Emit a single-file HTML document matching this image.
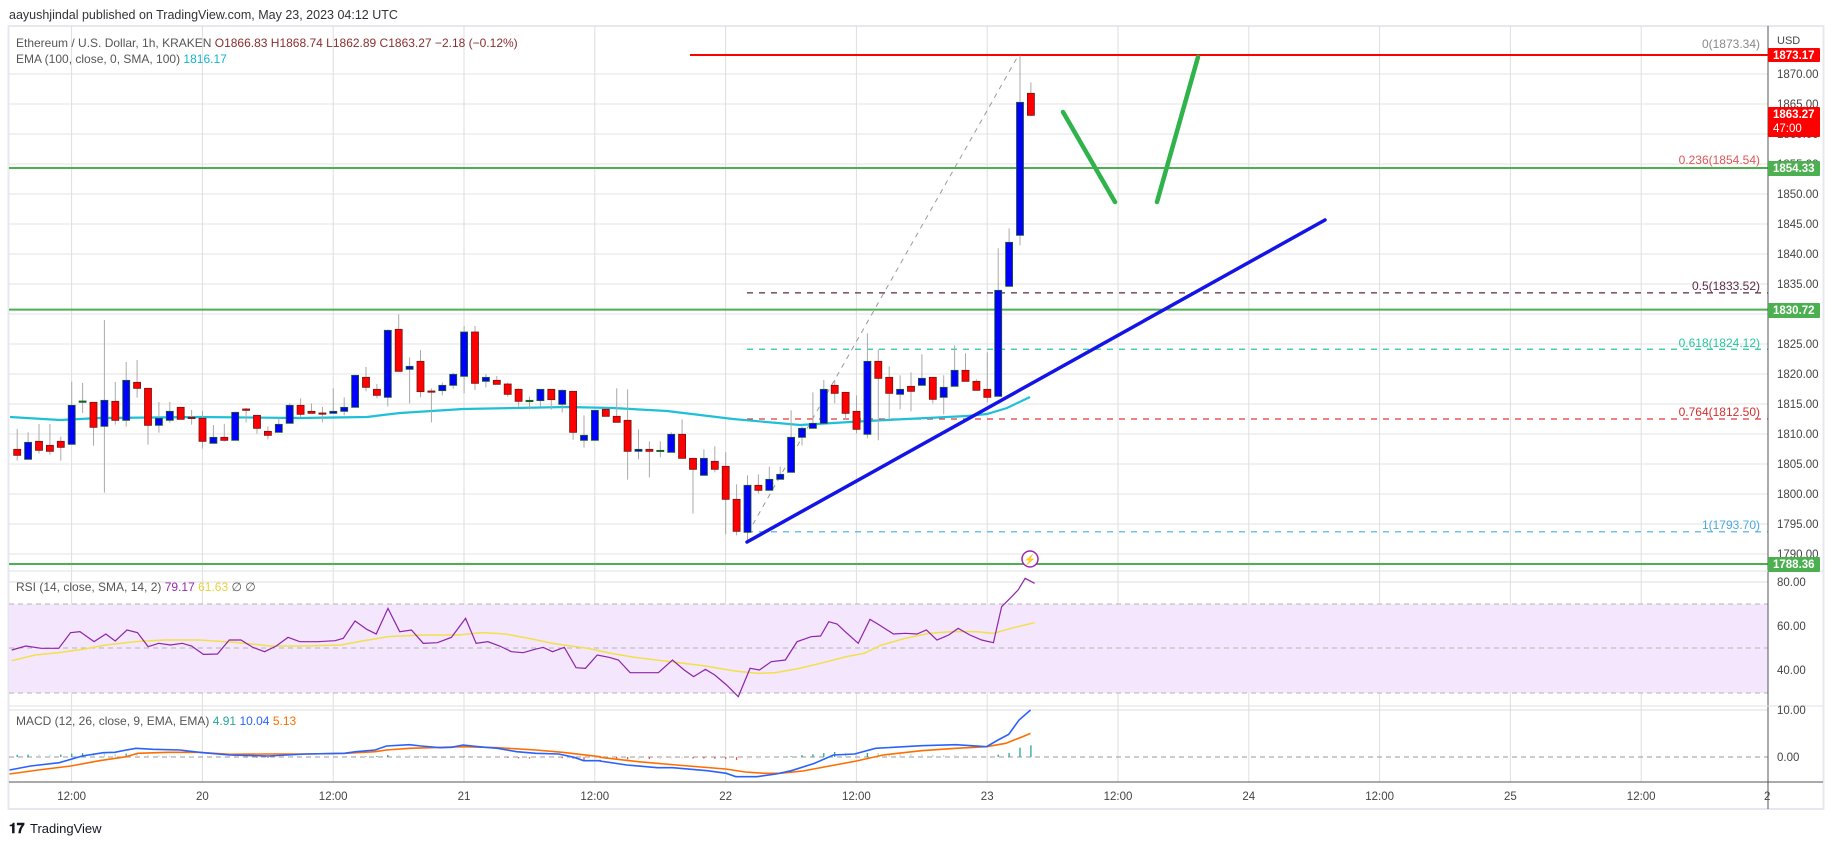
<!DOCTYPE html>
<html><head><meta charset="utf-8">
<style>
html,body{margin:0;padding:0;background:#fff;}
body{width:1834px;height:845px;overflow:hidden;font-family:"Liberation Sans",sans-serif;}
svg text{font-family:"Liberation Sans",sans-serif;}
</style></head>
<body>
<svg id="c" width="1834" height="845" viewBox="0 0 1834 845" xmlns="http://www.w3.org/2000/svg">
<rect x="0" y="0" width="1834" height="845" fill="#fff"/>
<text x="9" y="19" font-size="12.5" fill="#333">aayushjindal published on TradingView.com, May 23, 2023 04:12 UTC</text>
<rect x="8.5" y="26" width="1815" height="783" fill="#fff" stroke="#e6e8ee" stroke-width="2"/>
<g id="grid"></g>
<rect x="9" y="604" width="1759" height="89" fill="#f3e6fd"/>
<g id="grid2"></g>
<g id="lines"></g>
<g id="candles"></g>
<g id="over"></g>
<text x="16" y="47" font-size="12" fill="#555">Ethereum / U.S. Dollar, 1h, KRAKEN <tspan fill="#8b2e2e"> O1866.83  H1868.74  L1862.89  C1863.27  −2.18 (−0.12%)</tspan></text>
<text x="16" y="63" font-size="12" fill="#555">EMA (100, close, 0, SMA, 100) <tspan fill="#13b5d0">1816.17</tspan></text>
<text x="16" y="591" font-size="12" fill="#555">RSI (14, close, SMA, 14, 2) <tspan fill="#9c27b0">79.17</tspan> <tspan fill="#e8d23a">61.63</tspan> <tspan fill="#555">∅  ∅</tspan></text>
<text x="16" y="725" font-size="12" fill="#555">MACD (12, 26, close, 9, EMA, EMA) <tspan fill="#26a69a">4.91</tspan> <tspan fill="#2962ff">10.04</tspan> <tspan fill="#ff6d00">5.13</tspan></text>
<line x1="1768" y1="26" x2="1768" y2="809" stroke="#555" stroke-width="1"/>
<line x1="9" y1="782" x2="1823" y2="782" stroke="#555" stroke-width="1"/>
<line x1="9" y1="571" x2="1823" y2="571" stroke="#dfe1e6" stroke-width="1"/>
<line x1="9" y1="706" x2="1823" y2="706" stroke="#dfe1e6" stroke-width="1"/>
<g id="axis" font-size="11.5" fill="#444"></g>
<g id="tags"></g>
<text x="1777" y="44" font-size="11" fill="#444">USD</text>
<text x="9" y="833" font-size="14" font-weight="bold" fill="#131722">𝟏𝟕</text>
<text x="30" y="833" font-size="13" fill="#131722">TradingView</text>
</svg>
<script>
const NS="http://www.w3.org/2000/svg";
function el(p,tag,a,txt){const e=document.createElementNS(NS,tag);for(const k in a)e.setAttribute(k,a[k]);if(txt!==undefined)e.textContent=txt;document.getElementById(p).appendChild(e);return e;}
const yp=p=>74+(1870-p)*6;
const xt=t=>-59.1+10.9*t;
for(let p=1790;p<=1870;p+=5){el('grid','line',{x1:9,x2:1768,y1:yp(p),y2:yp(p),stroke:'#e3e3e3','stroke-width':1});}
[582,626,670].forEach(y=>el('grid','line',{x1:9,x2:1768,y1:y,y2:y,stroke:'#dcdcdc','stroke-width':1}));
el('grid','line',{x1:9,x2:1768,y1:710,y2:710,stroke:'#dcdcdc','stroke-width':1});
for(let k=0;k<13;k++){const x=71.6+130.8*k;el('grid','line',{x1:x,x2:x,y1:26,y2:782,stroke:'#dedede','stroke-width':1});}
[604,648,693].forEach(y=>el('grid2','line',{x1:9,x2:1768,y1:y,y2:y,stroke:'#b5b5b5','stroke-width':1,'stroke-dasharray':'5,4'}));
el('grid2','line',{x1:9,x2:1768,y1:757,y2:757,stroke:'#9a9a9a','stroke-width':1,'stroke-dasharray':'5,4'});
for(let p=1790;p<=1870;p+=5){el('axis','text',{x:1777,y:yp(p)+4},p.toFixed(2));}
[[582,'80.00'],[626,'60.00'],[670,'40.00'],[710,'10.00'],[757,'0.00']].forEach(a=>el('axis','text',{x:1777,y:a[0]+4},a[1]));
const xl=['12:00','20','12:00','21','12:00','22','12:00','23','12:00','24','12:00','25','12:00'];
xl.forEach((s,k)=>el('axis','text',{x:71.6+130.8*k,y:800,'text-anchor':'middle'},s));
el('axis','text',{x:1764,y:800},'2');
function hl(y,x1,col,w,dash){const a={x1:x1,x2:1768,y1:y,y2:y,stroke:col,'stroke-width':w};if(dash)a['stroke-dasharray']=dash;el('lines','line',a);}
hl(yp(1833.52),747,'#5a2a48',1.2,'6,6');
hl(yp(1824.12),747,'#26c6a0',1.2,'6,6');
hl(yp(1812.50),747,'#e53935',1.2,'6,6');
hl(yp(1793.70),747,'#4aa8e0',1.2,'6,6');
el('lines','line',{x1:748,y1:533,x2:1018,y2:56,stroke:'#999','stroke-width':1,'stroke-dasharray':'5,5'});
const fl=[[44,'0(1873.34)','#888'],[160,'0.236(1854.54)','#e05555'],[286,'0.5(1833.52)','#5a2a48'],[343,'0.618(1824.12)','#26c6a0'],[412,'0.764(1812.50)','#d32f2f'],[525,'1(1793.70)','#4aa8e0']];
fl.forEach(f=>el('lines','text',{x:1760,y:f[0]+4,'text-anchor':'end','font-size':12,fill:f[2]},f[1]));
const ema=[[10,417],[60,420],[100,418],[200,417],[300,418],[367,417],[383,415],[400,413],[463,409],[567,407],[613,408],[667,411],[733,419],[800,425],[867,421],[967,416],[987,414],[1007,408],[1030,397]];
el('lines','polyline',{points:ema.map(p=>p.join(',')).join(' '),fill:'none',stroke:'#1ec0d8','stroke-width':2.2});
const D=[
['d',448,466,387,482,300],['u',427,478,397,478,300],['d',424,451,372,461,300],['d',436,454,372,464,300],['d',424,442,410,482,300],
['u',316,433,245,433,300],['g',303,307,249,339,300],['d',307,382,307,437,300],['u',301,379,60,578,300],['d',304,361,246,374,300],
['u',241,361,186,380,300],['d',247,265,180,293,300],['d',265,376,265,434,300],['u',355,376,306,398,300],['u',334,361,306,368,300],
['d',322,358,322,358,300],['d',352,355,330,374,300],['d',355,424,333,446,300],['u',412,430,375,430,300],['d',412,421,372,424,300],
['u',337,421,337,421,300],['d',327,331,324,367,300],['d',346,385,346,401,300],['d',394,406,379,418,300],['u',373,397,355,397,300],
['u',316,370,310,370,300],['d',316,343,295,351,300],['d',334,340,310,340,300],['d',339,341,321,367,300],['u',334,340,265,340,300],
['u',322,334,292,346,300],['u',226,322,226,322,300],['d',232,262,201,274,300],['d',268,286,252,295,300],['u',91,292,88,319,300],
['d',88,214,43,214,300],['u',199,208,172,310,300],
['d',64,155,30,172,340],['d',153,155,145,247,340],['u',136,152,128,166,340],['u',103,136,98,146,340],['u',-24,109,-42,160,340],
['d',-24,130,-42,150,340],['u',112,124,102,142,340],['d',121,133,108,133,340],['d',132,163,128,170,340],['d',148,184,145,200,340],
['g',181,185,170,209,340],['u',148,182,148,200,340],['d',148,179,148,209,340],['u',151,193,148,218,340],['d',154,277,154,299,340],
['u',286,301,226,323,340],['u',211,301,211,301,340],['d',208,229,208,229,340],['d',229,247,145,247,340],['d',241,334,148,419,340],
['u',328,334,268,358,340],['d',328,334,304,412,340],['g',331,334,304,352,340],['u',283,337,277,337,340],['d',283,355,238,355,340],
['d',355,388,355,521,340],['u',355,406,328,406,340],['d',364,388,319,397,340],['d',379,478,337,583,340],['d',478,574,433,586,340],
['u',436,577,406,604,340],['d',436,451,403,460,340],['u',418,451,380,451,340],['u',403,418,380,418,340],['u',292,397,211,397,340],
['u',265,292,260,316,340],['u',250,265,157,265,340],
['u',1048,1150,1020,1150,40],['d',1036,1060,1020,1090,40],['d',1057,1120,1057,1138,40],['d',1114,1168,1066,1180,40],['u',964,1183,880,1195,40],
['d',964,1015,928,1201,40],['d',1012,1060,979,1138,40],['u',1048,1063,1006,1108,40],['d',1039,1054,997,1114,40],['u',1015,1036,943,1036,40],
['d',1012,1078,1012,1090,40],['u',1042,1072,1006,1123,40],['u',991,1039,916,1039,40],['d',991,1024,940,1024,40],['d',1024,1051,1018,1051,40],
['d',1048,1072,937,1087,40],['u',751,1069,625,1069,40],['u',607,739,565,739,40],['u',187,586,47,616,40],['d',160,226,127,229,40]];
D.forEach((c,i)=>{const t=7+i,x=xt(t),o=c[5];const bt=o+c[1]/3,bb=o+c[2]/3,wt=o+c[3]/3,wb=o+c[4]/3;
 el('candles','line',{x1:x,x2:x,y1:Math.min(wt,bt),y2:Math.max(wb,bb),stroke:'#aaa','stroke-width':1});
 const fill=c[0]=='u'?'#0000ff':(c[0]=='d'?'#ff0000':'#1b5e3b');const st=c[0]=='d'?'#7a1010':'#1b5e20';
 el('candles','rect',{x:x-3.5,y:bt,width:7,height:Math.max(1.2,bb-bt),fill:fill,stroke:st,'stroke-width':0.8});});
hl(55,690,'#ff0000',2,null);
hl(yp(1854.33),9,'#4caf50',2,null);
hl(yp(1830.72),9,'#4caf50',2,null);
hl(564,9,'#4caf50',2,null);
el('over','line',{x1:747,y1:542,x2:1325,y2:220,stroke:'#1414e6','stroke-width':3.5,'stroke-linecap':'round'});
el('over','line',{x1:1063,y1:112,x2:1115,y2:202,stroke:'#2fb34a','stroke-width':4.5,'stroke-linecap':'round'});
el('over','line',{x1:1157,y1:202,x2:1198,y2:57,stroke:'#2fb34a','stroke-width':4.5,'stroke-linecap':'round'});
el('over','circle',{cx:1030,cy:559,r:8,fill:'#fff',stroke:'#9c27b0','stroke-width':1.5});
el('over','text',{x:1030,y:563,'text-anchor':'middle','font-size':10,fill:'#9c27b0'},'⚡');
function tag(y1,h,col,txt,txt2){el('tags','rect',{x:1768,y:y1,width:52,height:h,fill:col,rx:1});el('tags','text',{x:1773,y:y1+11,'font-size':11.5,'font-weight':'bold',fill:'#fff'},txt);if(txt2)el('tags','text',{x:1773,y:y1+25,'font-size':11.5,fill:'#fff'},txt2);}
tag(48,14,'#ff0000','1873.17');tag(107,30,'#ff0000','1863.27','47:00');tag(161,15,'#4caf50','1854.33');tag(303,15,'#4caf50','1830.72');tag(557,15,'#4caf50','1788.36');
const X3=x=>x/0.8506, Y3=y=>560+y/3;
const rsi=[[10,270],[22,258],[35,265],[50,265],[60,218],[68,215],[80,245],[90,222],[98,243],[108,210],[117,218],[126,260],[135,250],[145,255],[155,250],[163,258],[173,283],[185,282],[195,240],[205,240],[215,262],[225,275],[235,258],[245,232],[255,245],[270,245],[285,242],[292,235],[302,183],[312,208],[320,222],[330,145],[340,215],[350,210],[360,250],[372,248],[384,232],[396,175],[405,250],[415,245],[425,258],[435,275],[445,278],[455,268],[462,262],[470,275],[480,262],[490,323],[498,325],[508,285],[518,292],[526,300],[536,338],[548,338],[560,338],[572,300],[582,330],[590,350],[600,328],[608,345],[618,375],[628,410],[638,325],[646,330],[656,305],[668,300],[678,245],[690,230],[698,228],[705,185],[712,192],[718,212],[730,250],[740,178],[748,195],[760,222],[770,220],[780,222],[788,210],[797,240],[807,225],[815,205],[825,225],[835,240],[845,248],[852,140],[860,112],[866,90],[872,55],[880,70]];
const rma=[[10,302],[30,285],[50,278],[70,268],[90,255],[115,245],[140,240],[170,240],[200,247],[230,258],[260,258],[290,255],[305,245],[330,230],[360,225],[390,225],[410,218],[430,222],[450,235],[470,250],[500,265],[520,280],[540,292],[570,305],[600,318],[625,333],[645,340],[660,338],[680,325],[700,308],[720,290],[735,280],[750,255],[770,235],[790,220],[810,215],[830,215],[845,220],[860,205],[880,188]];
el('over','polyline',{points:rma.map(p=>X3(p[0])+','+Y3(p[1])).join(' '),fill:'none',stroke:'#f2e04a','stroke-width':1.5});
el('over','polyline',{points:rsi.map(p=>X3(p[0])+','+Y3(p[1])).join(' '),fill:'none',stroke:'#8e24aa','stroke-width':1.2});
const m6=[[25,210],[80,198],[155,188],[215,168],[270,158],[300,157],[330,150],[355,145],[400,148],[470,150],[530,158],[600,165],[700,168],[800,162],[900,160],[930,155],[980,150],[1010,138],[1070,134],[1100,138],[1150,143],[1180,142],[1210,135],[1250,140],[1300,145],[1350,155],[1400,160],[1460,162],[1500,172],[1525,182],[1568,182]];
const m7=[[0,183],[70,195],[150,203],[190,203],[280,212],[330,220],[355,230],[410,230],[460,222],[500,212],[560,190],[610,165],[665,162],[720,145],[840,137],[930,134],[1010,140],[1040,120],[1068,103],[1095,60],[1125,30]];
const s6=[[25,222],[100,210],[185,198],[260,182],[330,170],[360,160],[440,157],[520,157],[600,163],[700,162],[800,162],[900,160],[980,155],[1010,150],[1070,145],[1210,140],[1300,143],[1400,150],[1470,157],[1568,170]];
const s7=[[0,172],[100,185],[200,195],[328,207],[380,216],[430,220],[470,220],[530,213],[600,198],[670,183],[740,165],[840,152],[930,145],[1010,140],[1060,130],[1100,112],[1125,100]];
const cv=(a,o)=>a.map(p=>[o+p[0]/2.613,700+p[1]/3]);
const MAC=cv(m6,0).concat(cv(m7,600)), SIG=cv(s6,0).concat(cv(s7,600));
function interp(a,x){if(x<=a[0][0])return a[0][1];for(let i=1;i<a.length;i++){if(x<=a[i][0]){const f=(x-a[i-1][0])/(a[i][0]-a[i-1][0]);return a[i-1][1]+f*(a[i][1]-a[i-1][1]);}}return a[a.length-1][1];}
let prev=0;
for(let t=7;t<=100;t++){const x=xt(t);const h=(interp(SIG,x)-interp(MAC,x))*0.5;let col;if(h>=0)col=h>=prev?'#26a69a':'#b2dfdb';else col=h<=prev?'#ef5350':'#ffcdd2';
 el('over','line',{x1:x,x2:x,y1:757,y2:757-h,stroke:col,'stroke-width':1.3});prev=h;}
el('over','polyline',{points:SIG.map(p=>p.join(',')).join(' '),fill:'none',stroke:'#ff6d00','stroke-width':1.6});
el('over','polyline',{points:MAC.map(p=>p.join(',')).join(' '),fill:'none',stroke:'#2962ff','stroke-width':1.6});
</script>
</body></html>
